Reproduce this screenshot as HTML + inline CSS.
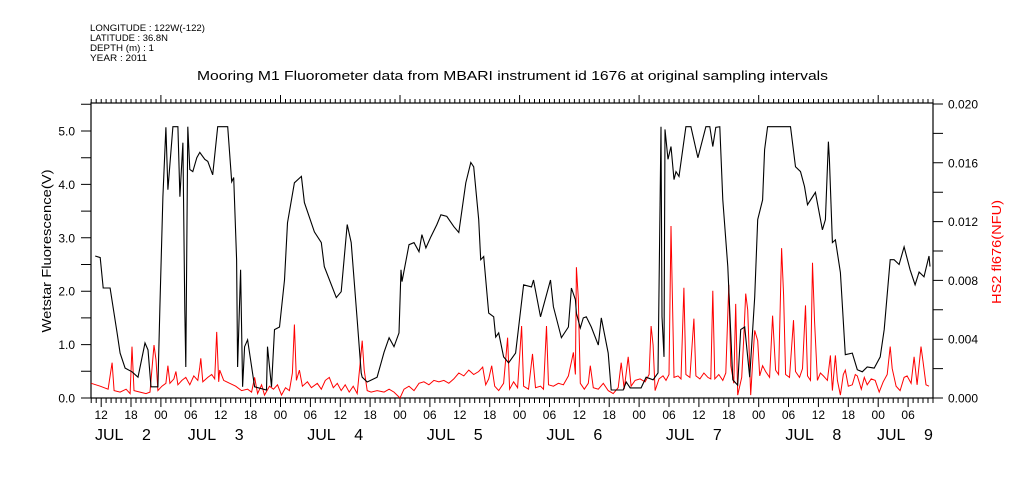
<!DOCTYPE html>
<html><head><meta charset="utf-8">
<style>
html,body{margin:0;padding:0;background:#fff;}
svg{display:block;font-family:"Liberation Sans",sans-serif;}
</style></head>
<body>
<svg id="chart" width="1009" height="504" viewBox="0 0 1009 504" xmlns="http://www.w3.org/2000/svg">
<rect x="0" y="0" width="1009" height="504" fill="#fff"/>
<g font-size="9" fill="#000">
<text x="90" y="31" textLength="115" lengthAdjust="spacingAndGlyphs">LONGITUDE : 122W(-122)</text>
<text x="90" y="41" textLength="78" lengthAdjust="spacingAndGlyphs">LATITUDE : 36.8N</text>
<text x="90" y="51" textLength="64" lengthAdjust="spacingAndGlyphs">DEPTH (m) : 1</text>
<text x="90" y="61" textLength="57" lengthAdjust="spacingAndGlyphs">YEAR : 2011</text>
</g>
<text x="197" y="80" font-size="13" textLength="631" lengthAdjust="spacingAndGlyphs">Mooring M1 Fluorometer data from MBARI instrument id 1676 at original sampling intervals</text>
<text transform="translate(51,251) rotate(-90)" font-size="13" text-anchor="middle" textLength="163" lengthAdjust="spacingAndGlyphs">Wetstar Fluorescence(V)</text>
<text transform="translate(1001,252) rotate(-90)" font-size="13" text-anchor="middle" fill="#f00" textLength="104" lengthAdjust="spacingAndGlyphs">HS2 fl676(NFU)</text>
<g id="axes"></g>
<g id="series"></g>
</svg>
<script>
// Black series: hours since JUL 2 00:00, Wetstar fluorescence (V)
const blackTimes = [10.8,11.8,12.4,13.8,15.2,15.8,16.8,18.2,19.4,20.8,21.4,22.0,23.4,23.8,24.4,25.0,25.4,26.4,27.4,27.8,28.4,28.8,29.0,29.4,29.8,30.4,31.2,31.8,32.8,33.4,34.4,35.4,37.4,38.2,38.6,39.2,39.4,40.0,40.4,40.8,41.4,42.8,45.2,45.4,46.2,46.8,47.8,48.8,49.4,50.8,52.2,52.8,54.8,56.2,56.8,59.2,60.2,61.4,62.2,63.4,64.2,64.4,65.4,67.4,68.8,69.8,70.8,71.8,72.2,72.4,73.8,74.8,75.8,76.4,77.2,78.2,79.4,80.2,81.4,82.8,83.8,85.2,86.2,86.8,87.8,88.2,88.8,89.8,90.8,91.2,91.8,92.8,93.8,95.2,96.8,98.4,98.8,100.2,102.2,102.8,104.4,105.8,106.4,107.2,107.4,108.2,108.8,109.4,110.4,111.8,112.4,113.8,114.4,116.8,117.4,118.2,120.4,121.4,122.8,123.8,124.4,124.6,125.0,125.2,125.8,126.4,127.0,127.4,128.0,129.4,130.4,131.8,133.4,134.2,134.8,135.4,136.2,136.8,137.8,138.8,139.8,140.4,141.2,142.2,143.2,143.8,144.8,145.2,145.8,150.4,151.4,152.4,153.2,153.8,155.4,156.8,157.4,158.0,158.2,158.8,159.4,160.4,161.4,162.8,163.8,164.8,165.8,167.2,168.4,169.2,170.4,171.2,172.2,173.2,174.4,175.4,176.2,177.2,178.2,178.4];
const blackValues = [2.66,2.63,2.06,2.06,1.22,0.84,0.56,0.49,0.39,1.03,0.90,0.21,0.21,1.71,3.77,5.07,3.90,5.08,5.08,3.77,4.78,1.65,0.58,5.08,4.28,4.24,4.50,4.60,4.47,4.43,4.18,5.08,5.08,4.05,4.13,2.59,0.58,2.40,0.21,0.96,1.09,0.21,0.15,0.96,0.21,1.28,1.33,2.21,3.28,4.03,4.15,3.66,3.11,2.91,2.46,1.88,1.99,3.25,2.91,1.46,0.47,0.39,0.30,0.39,0.86,1.13,0.96,1.22,2.40,2.18,2.87,2.91,2.74,3.06,2.81,3.02,3.25,3.43,3.40,3.21,3.10,4.03,4.41,4.33,3.34,2.59,2.65,1.59,1.52,1.14,1.22,0.77,0.66,0.84,2.12,2.08,2.21,1.52,2.21,1.71,1.13,1.33,2.06,1.84,1.59,1.31,1.50,1.52,1.33,0.99,1.50,0.84,0.15,0.15,0.30,0.19,0.19,0.39,0.34,0.47,5.08,1.52,0.77,5.03,4.47,4.71,4.09,4.24,4.15,5.08,5.08,4.50,5.08,5.08,4.71,5.07,5.08,3.71,2.46,0.34,0.24,1.28,1.33,0.39,1.89,3.34,3.71,4.65,5.08,5.08,4.33,4.24,3.96,3.62,3.85,3.15,3.34,4.80,4.47,2.91,2.96,2.35,0.81,0.84,0.53,0.49,0.58,0.56,0.77,1.28,2.59,2.59,2.50,2.83,2.40,2.12,2.36,2.27,2.66,2.46];
// Red series: hours since JUL 2 00:00, HS2 fl676 in units of 0.001 NFU
const redTimes = [10.0,11.8,13.4,14.2,14.6,15.8,17.0,17.8,18.2,18.6,19.8,21.0,21.8,22.6,23.0,23.4,24.2,25.0,25.4,25.8,26.6,27.0,27.4,28.2,29.0,29.8,30.6,31.4,31.8,32.0,32.4,33.4,34.2,34.8,35.2,35.6,35.8,36.6,37.8,39.0,40.2,41.4,42.2,42.8,43.4,44.2,44.8,45.8,46.6,47.4,48.2,49.0,49.8,50.4,50.8,51.2,51.8,52.4,53.4,54.2,55.4,56.2,57.0,57.8,58.6,59.4,60.2,61.0,61.8,62.6,63.4,64.0,64.4,64.8,65.4,66.2,67.4,68.8,69.8,70.8,72.0,72.8,73.8,74.8,75.8,76.8,77.8,78.8,79.8,80.8,81.8,82.8,83.8,84.8,85.8,86.8,87.8,88.6,89.2,89.8,90.4,91.0,91.8,92.8,93.6,94.0,94.8,95.6,96.4,96.8,97.8,98.6,99.2,100.2,100.8,101.4,101.8,102.8,103.8,104.8,105.8,106.8,107.2,107.4,107.8,108.2,109.0,109.8,110.2,110.8,111.8,112.8,113.8,114.8,115.8,116.4,117.0,117.8,118.4,119.2,120.2,121.2,122.0,122.4,122.8,123.2,124.0,124.8,125.4,126.0,126.4,126.6,127.0,127.8,128.4,129.0,129.4,130.2,131.0,131.4,132.2,133.0,133.8,134.4,134.8,135.2,136.0,136.8,137.4,138.0,138.4,139.0,139.4,139.8,140.6,141.0,141.4,141.8,142.4,142.8,143.2,143.8,144.2,144.8,145.4,146.2,146.8,147.4,148.0,148.6,149.0,149.4,150.2,151.0,151.4,152.2,152.8,153.4,153.8,154.4,154.8,155.2,155.8,156.4,157.0,157.8,158.4,158.8,159.4,159.8,160.4,161.0,161.4,162.0,162.8,163.4,163.8,164.6,165.2,165.8,166.6,167.4,168.2,169.0,169.8,170.4,170.8,171.6,172.4,173.2,173.8,174.6,175.2,175.8,176.6,177.0,177.6,178.2];
const redValues = [1.0,0.8,0.6,2.4,0.5,0.4,0.6,0.3,3.5,0.5,0.4,0.3,0.4,3.6,2.6,0.5,0.8,1.0,2.2,1.0,1.3,1.8,0.9,1.2,1.4,0.9,1.5,1.2,2.1,2.7,1.1,1.4,1.6,1.3,4.5,1.1,1.9,1.2,1.0,0.8,0.5,0.6,0.4,1.4,0.3,0.9,0.2,0.8,0.6,0.9,0.2,0.7,0.5,1.7,5.0,1.2,1.9,0.8,1.1,0.7,1.0,0.6,1.2,1.4,0.7,1.0,0.5,0.9,0.4,0.8,0.3,2.4,3.9,1.9,0.5,0.4,0.5,0.4,0.6,0.4,0.0,0.6,0.8,0.5,1.0,1.1,0.9,1.2,1.1,1.2,1.0,1.3,1.7,1.5,1.9,1.6,1.8,2.1,0.9,1.3,2.2,0.8,0.5,1.0,4.1,0.6,1.1,0.7,4.9,0.8,0.6,3.0,0.7,0.8,0.6,4.9,0.9,0.8,1.0,0.9,1.5,3.1,1.6,8.9,6.8,1.0,0.6,1.0,2.2,0.7,0.6,1.0,0.5,0.3,0.7,2.4,0.6,2.8,0.8,1.2,1.3,1.1,1.6,4.9,3.6,0.5,1.3,1.5,1.2,1.6,11.7,8.2,1.4,1.5,1.3,7.5,1.6,1.4,5.4,1.5,1.3,1.7,1.4,1.3,7.3,1.3,1.6,1.2,1.7,7.7,2.2,1.0,6.4,0.2,1.4,4.0,7.1,6.0,0.2,2.5,4.6,3.9,1.5,2.2,1.8,1.4,5.6,1.9,1.6,10.2,7.0,1.6,1.4,5.3,1.8,1.4,2.0,6.3,1.5,1.2,9.2,5.3,1.2,1.7,1.5,1.2,2.9,0.5,2.9,1.2,0.2,1.6,1.9,0.8,0.9,1.6,1.5,0.6,1.4,0.9,1.3,1.2,0.4,1.1,1.6,3.5,2.0,0.8,0.5,1.4,1.5,1.0,2.8,0.9,3.5,2.5,0.9,0.8];
const leftTickValues = [0,1,2,3,4,5];
const leftTickLabels = ["0.0","1.0","2.0","3.0","4.0","5.0"];
const rightTickValues = [0,4,8,12,16,20];
const rightTickLabels = ["0.000","0.004","0.008","0.012","0.016","0.020"];
const hourLabelHours = [12,18,24,30,36,42,48,54,60,66,72,78,84,90,96,102,108,114,120,126,132,138,144,150,156,162,168,174];
const hourLabels = ["12","18","00","06","12","18","00","06","12","18","00","06","12","18","00","06","12","18","00","06","12","18","00","06","12","18","00","06"];
const dayLabels = ["JUL 2","JUL 3","JUL 4","JUL 5","JUL 6","JUL 7","JUL 8","JUL 9"];

const X0=91, X1=933, Y0=398, Y1=103;
const T0=9.96, T1=179.0;
const xS = t => X0 + (t - T0) * (X1 - X0) / (T1 - T0);
const yL = v => Y0 - v * 53.4;
const yR = v => Y0 - v * (Y0 - 104) / 20;
const NS="http://www.w3.org/2000/svg";
const axes=document.getElementById('axes'), series=document.getElementById('series');
function mk(tag, attrs, parent){const e=document.createElementNS(NS,tag);for(const k in attrs)e.setAttribute(k,attrs[k]);parent.appendChild(e);return e;}

const frame = mk('rect',{x:X0,y:Y1,width:X1-X0,height:Y0-Y1,fill:'none',stroke:'#000','stroke-width':1.2},axes);



let tp='';
for(let h=Math.ceil(T0); h<=T1; h++){
  const x=xS(h).toFixed(1);
  const major = h%6===0;
  tp += `M${x} ${Y0}V${Y0+(major?9:5)}`;
  tp += `M${x} ${Y1}V${Y1-(h%24===0?8:4)}`;
}
const tpath=mk('path',{d:tp,stroke:'#000','stroke-width':1,fill:'none'},axes);


hourLabelHours.forEach((h,i)=>{
  const t=mk('text',{x:xS(h),y:419,'font-size':12,'text-anchor':'middle'},axes);
  t.textContent=hourLabels[i];
  
  
});
dayLabels.forEach((d,i)=>{
  const noon = 12 + 24*i;
  let xs = xS(noon) - 33;
  if (xs < 95) xs = 95;
  if (xs > 877) xs = 877;
  const p=d.split(' ');
  const g=mk('text',{x:xs,y:440,'font-size':16},axes);
  g.textContent=p[0];
  
  
  const n=mk('text',{x:xs+47,y:440,'font-size':16},axes);
  n.textContent=p[1];
  
  
});
let lp='';
for(let v=0; v<=5.5; v+=0.5){ lp+=`M${X0-10} ${yL(v).toFixed(1)}H${X0}`; }
const lpath=mk('path',{d:lp,stroke:'#000','stroke-width':1},axes);


leftTickValues.forEach((v,i)=>{
  const t=mk('text',{x:75,y:yL(v)+4.5,'font-size':12,'text-anchor':'end'},axes);
  t.textContent=leftTickLabels[i];
  
  
});
let rp='';
for(let v=0; v<=20; v+=2){ rp+=`M${X1} ${yR(v).toFixed(1)}H${X1+10}`; }
const rpath=mk('path',{d:rp,stroke:'#000','stroke-width':1},axes);


rightTickValues.forEach((v,i)=>{
  const t=mk('text',{x:948,y:yR(v)+4.5,'font-size':12},axes);
  t.textContent=rightTickLabels[i];
  
  
});
const redPts = redTimes.map((t,i)=>xS(t).toFixed(1)+','+yR(redValues[i]).toFixed(1)).join(' ');
const red=mk('polyline',{points:redPts,fill:'none',stroke:'#f00','stroke-width':1},series);


const blackPts = blackTimes.map((t,i)=>xS(t).toFixed(1)+','+yL(blackValues[i]).toFixed(1)).join(' ');
const black=mk('polyline',{points:blackPts,fill:'none',stroke:'#000','stroke-width':1.1},series);


</script>
</body></html>
